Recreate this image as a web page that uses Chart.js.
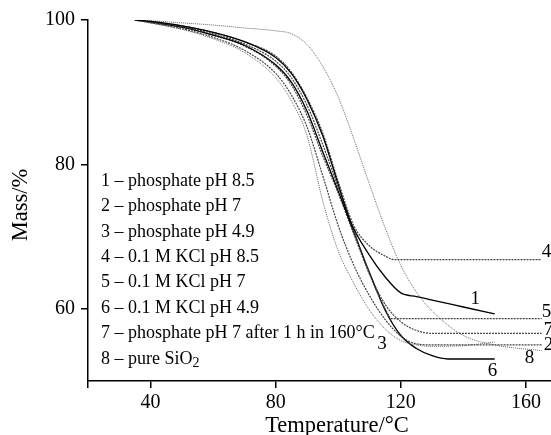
<!DOCTYPE html>
<html lang="en">
<head>
<meta charset="UTF-8">
<script src="https://cdn.jsdelivr.net/npm/chart.js"></script>
<meta name="viewport" content="width=device-width, initial-scale=1.0">
<title>TG curves</title>
<style>
body { margin: 0; background: #fff; }
canvas { display: block; }
</style>
</head>
<body>
<canvas id="tgChart" width="551" height="435"></canvas>
<script>
// temperature (°C) and mass (%)
var t1 = [35, 40, 50, 60, 70, 80, 85, 90, 95, 100, 104, 110, 115, 120, 125, 130, 140, 150];
var m1 = [100, 99.8, 99.2, 98.3, 97, 94.8, 92.6, 89, 84, 77.2, 72, 67.4, 64.4, 62.2, 61.7, 61.2, 60.25, 59.3];

var t2 = [35, 40, 50, 60, 70, 80, 85, 90, 95, 100, 105, 110, 115, 120, 123, 130, 140, 165];
var m2 = [100, 99.6, 98.8, 97.6, 95.8, 92.6, 89.6, 85.2, 78.5, 71.5, 66, 61.8, 58.5, 56.2, 55.4, 55.0, 55.0, 55.0];

var t3 = [35, 40, 50, 60, 70, 80, 85, 90, 95, 100, 105, 110, 115, 120, 125, 130, 140, 150];
var m3 = [100, 99.6, 98.7, 97.4, 95.5, 92, 88.8, 84, 75, 68, 63.5, 59.8, 57.2, 55.6, 55, 54.8, 54.9, 55.4];

var t4 = [35, 40, 50, 60, 70, 80, 85, 90, 95, 100, 105, 110, 115, 118, 165];
var m4 = [100, 99.8, 99.2, 98.3, 97, 95, 92.8, 89.2, 84.4, 77.6, 71.5, 68.7, 67.3, 66.8, 66.8];

var t5 = [35, 40, 50, 60, 70, 80, 85, 90, 95, 100, 105, 110, 115, 117, 165];
var m5 = [100, 99.7, 99.1, 98.1, 96.7, 94.3, 92, 88.2, 82.8, 76.8, 70.8, 64.8, 60, 58.65, 58.65];

var t6 = [35, 40, 50, 60, 70, 80, 85, 90, 95, 100, 105, 110, 115, 120, 125, 130, 135, 150];
var m6 = [100, 99.7, 99, 97.9, 96.5, 93.8, 91.4, 87.4, 81.8, 76.3, 70.6, 65, 59.8, 56.3, 54.5, 53.5, 53.05, 53.05];

var t7 = [35, 40, 50, 60, 70, 80, 85, 90, 95, 100, 105, 110, 115, 120, 125, 130, 165];
var m7 = [100, 99.7, 99, 97.9, 96.4, 93.6, 91, 86.8, 81.2, 76, 70.3, 64.8, 60.6, 58.2, 57.0, 56.6, 56.6];

var t8 = [35, 40, 50, 60, 70, 80, 85, 90, 95, 100, 105, 110, 115, 120, 125, 130, 140, 150, 165];
var m8 = [100, 99.9, 99.6, 99.3, 98.9, 98.5, 98.1, 96.6, 93.6, 89.3, 83.5, 77.2, 71.2, 66, 62.3, 59.7, 56.3, 55, 54.2];

var legendNames = [
	'1 – phosphate pH 8.5',
	'2 – phosphate pH 7',
	'3 – phosphate pH 4.9',
	'4 – 0.1 M KCl pH 8.5',
	'5 – 0.1 M KCl pH 7',
	'6 – 0.1 M KCl pH 4.9',
	'7 – phosphate pH 7 after 1 h in 160°C',
	'8 – pure SiO'
];

// curve numbers next to the curves (T, mass)
var curveNums = ['1', '2', '3', '4', '5', '6', '7', '8'];
var numT = [143.8, 167.2, 114, 166.6, 166.6, 149.3, 167.2, 161.1];
var numM = [61.4, 55.0, 55.1, 67.8, 59.6, 51.4, 57.1, 53.2];

var xTicks = [20, 40, 80, 120, 160];
var yTicks = [60, 80, 100];

var serif = '"Liberation Serif", "Times New Roman", serif';

function pts(t, m) {
	return t.map(function (v, i) { return { x: v, y: m[i] }; });
}

function solid(t, m) {
	return { data: pts(t, m), borderColor: '#000', borderWidth: 1.3 };
}
function dotted(t, m) {
	return { data: pts(t, m), borderColor: '#444', borderWidth: 1.2, borderDash: [2, 1] };
}
function faint(t, m) {
	return { data: pts(t, m), borderColor: '#666', borderWidth: 1, borderDash: [1, 1] };
}

var textPlugin = {
	id: 'texts',
	afterDraw: function (chart) {
		var ctx = chart.ctx;
		var a = chart.chartArea;
		var xs = chart.scales.x, ys = chart.scales.y;
		ctx.save();
		ctx.fillStyle = '#000';
		ctx.textBaseline = 'middle';

		// legend block
		ctx.font = '18px ' + serif;
		ctx.textAlign = 'left';
		for (var i = 0; i < legendNames.length; i++) {
			var yy = a.top + 161 + i * 25.4;
			ctx.fillText(legendNames[i], a.left + 13, yy);
			if (i === 7) {
				var w = ctx.measureText(legendNames[i]).width;
				ctx.font = '14px ' + serif;
				ctx.fillText('2', a.left + 13 + w, yy + 5);
				ctx.font = '18px ' + serif;
			}
		}

		// curve numbers
		ctx.font = '19px ' + serif;
		ctx.textAlign = 'center';
		for (var j = 0; j < curveNums.length; j++) {
			ctx.fillText(curveNums[j], xs.getPixelForValue(numT[j]), ys.getPixelForValue(numM[j]));
		}

		// axis titles
		ctx.font = '22.5px ' + serif;
		ctx.fillText('Temperature/°C', 337, 426);
		ctx.translate(21, 205);
		ctx.rotate(-Math.PI / 2);
		ctx.fillText('Mass/%', 0, 0);
		ctx.restore();
	}
};

new Chart(document.getElementById('tgChart'), {
	type: 'line',
	data: {
		datasets: [
			solid(t1, m1),
			dotted(t2, m2),
			faint(t3, m3),
			dotted(t4, m4),
			dotted(t5, m5),
			solid(t6, m6),
			dotted(t7, m7),
			faint(t8, m8)
		]
	},
	options: {
		responsive: false,
		animation: false,
		parsing: false,
		layout: { padding: { top: 20, right: 0, left: 0, bottom: 0 } },
		elements: {
			point: { radius: 0 },
			line: { cubicInterpolationMode: 'monotone', fill: false }
		},
		plugins: {
			legend: { display: false },
			tooltip: { enabled: false }
		},
		scales: {
			x: {
				type: 'linear',
				min: 20,
				max: 168,
				afterBuildTicks: function (s) { s.ticks = xTicks.map(function (v) { return { value: v }; }); },
				afterFit: function (s) { s.height = 54; },
				ticks: {
					autoSkip: false,
					maxRotation: 0,
					padding: 3,
					color: '#000',
					font: { family: serif, size: 20 },
					callback: function (v) { return v === 20 ? '' : v; }
				},
				grid: { drawOnChartArea: false, drawTicks: true, tickLength: 7, color: '#000', lineWidth: 1.5 },
				border: { color: '#000', width: 1.5 }
			},
			y: {
				min: 50,
				max: 100,
				afterBuildTicks: function (s) { s.ticks = yTicks.map(function (v) { return { value: v }; }); },
				afterFit: function (s) { s.width = 88; },
				ticks: {
					padding: 6,
					color: '#000',
					font: { family: serif, size: 20 }
				},
				grid: { drawOnChartArea: false, drawTicks: true, tickLength: 7, color: '#000', lineWidth: 1.5 },
				border: { color: '#000', width: 1.5 }
			}
		}
	},
	plugins: [textPlugin]
});
</script>
</body>
</html>
